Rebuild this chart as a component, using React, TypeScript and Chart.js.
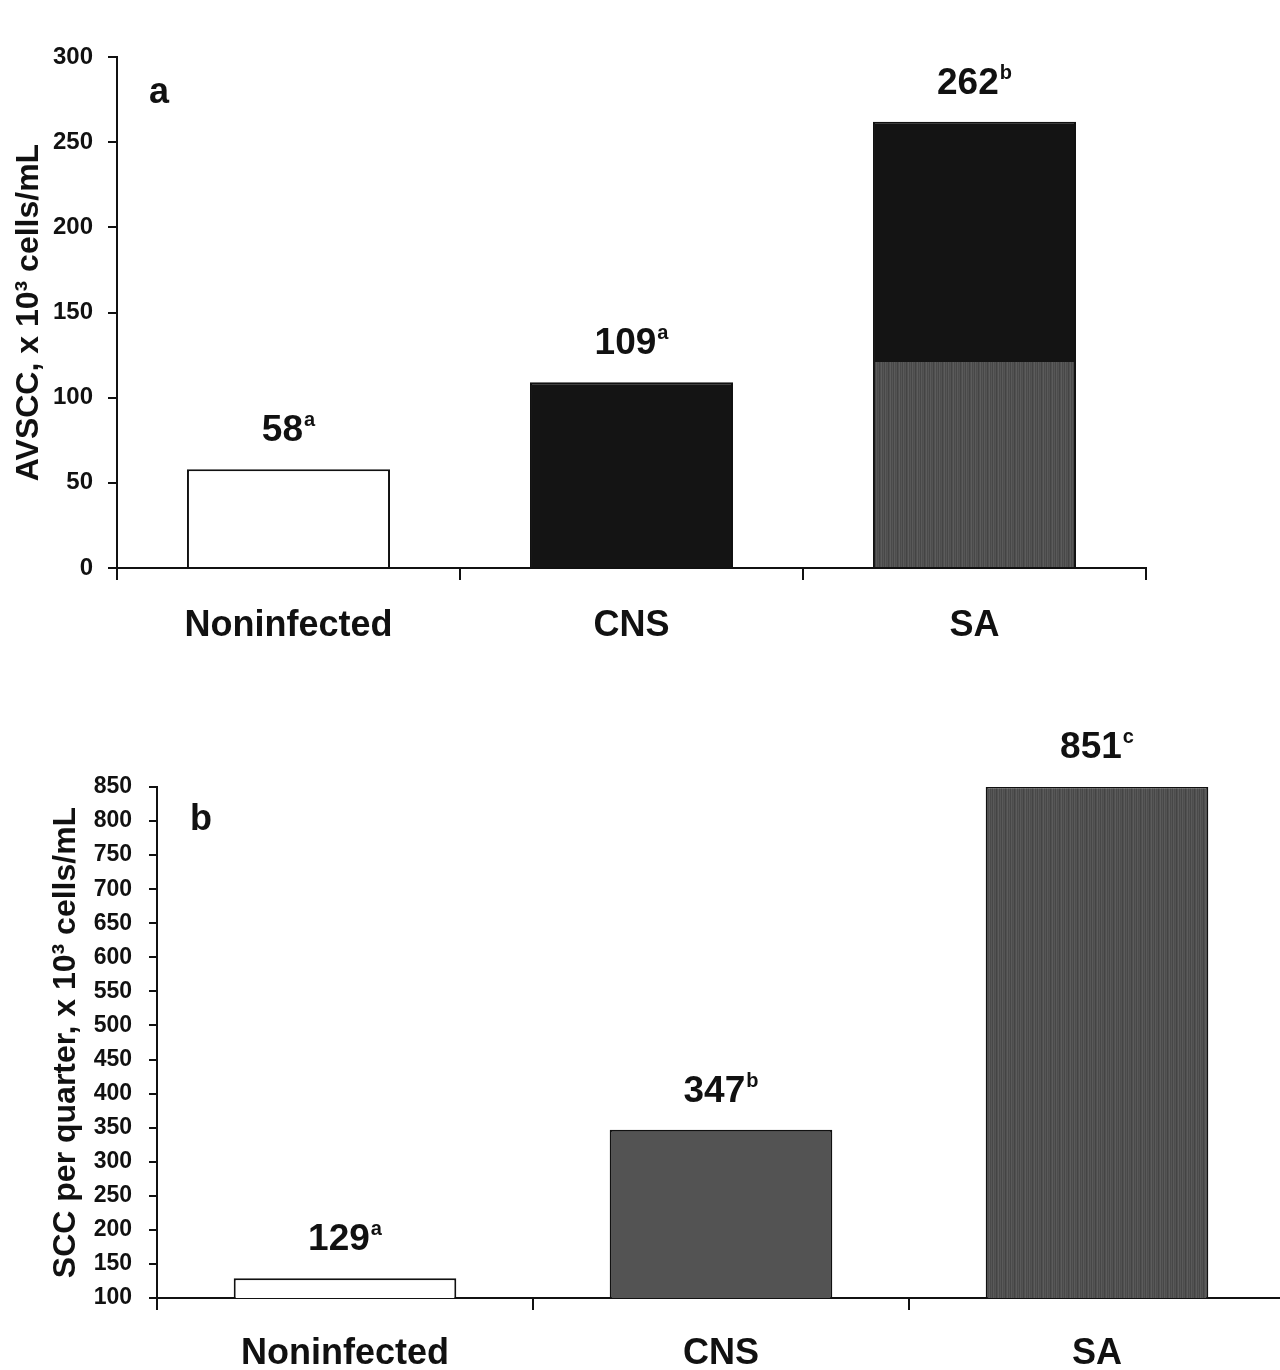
import React, { useEffect, useRef } from 'react';
import { Chart, registerables } from 'chart.js';

Chart.register(...registerables);

// ---- Data ----
const categories = ['Noninfected', 'CNS', 'SA'];

const avsccValues = [58, 109, 262];
const avsccLetters = ['a', 'a', 'b'];
const avsccTickMin = 0;
const avsccTickMax = 300;
const avsccTickStep = 50;

const sccValues = [129, 347, 851];
const sccLetters = ['a', 'b', 'c'];
const sccTickMin = 100;
const sccTickMax = 850;
const sccTickStep = 50;

// ---- Styles ----
const INK = '#111111';
const FONT = '"Liberation Sans", Arial, sans-serif';
const STRIPES = ['#4a4a4a', '#565656', '#474747', '#5a5a5a', '#4d4d4d', '#535353', '#444444', '#505050', '#5c5c5c'];

const valueLabelPlugin = {
  id: 'valueLabels',
  afterDatasetsDraw(chart: any, _args: any, opts: any) {
    const { ctx, chartArea } = chart;
    const meta = chart.getDatasetMeta(0);
    const values = chart.data.datasets[0].data as number[];
    const mainFont = `bold 37px ${FONT}`;
    const supFont = `bold 20px ${FONT}`;
    meta.data.forEach((bar: any, i: number) => {
      const main = String(values[i]);
      const sup = opts.letters[i];
      ctx.save();
      ctx.font = mainFont;
      const wMain = ctx.measureText(main).width;
      ctx.font = supFont;
      const wSup = ctx.measureText(sup).width;
      const total = wMain + 1 + wSup;
      const x0 = bar.x - total / 2;
      const yb = bar.y - 28;
      ctx.fillStyle = INK;
      ctx.textAlign = 'left';
      ctx.textBaseline = 'alphabetic';
      ctx.font = mainFont;
      ctx.fillText(main, x0, yb);
      ctx.font = supFont;
      ctx.fillText(sup, x0 + wMain + 1, yb - 15);
      ctx.restore();
    });
    // panel letter
    ctx.save();
    ctx.fillStyle = INK;
    ctx.font = `bold 36px ${FONT}`;
    ctx.textAlign = 'left';
    ctx.textBaseline = 'alphabetic';
    ctx.fillText(opts.panel, chartArea.left + opts.panelDx, chartArea.top + opts.panelDy);
    ctx.restore();
  },
};

interface PanelDef {
  values: number[];
  letters: string[];
  min: number;
  max: number;
  step: number;
  title: string;
  titlePad: number;
  tickFont: number;
  tickPad: number;
  yTickLen: number;
  colors: string[];
  striped: boolean[];
  width: number;
  height: number;
  areaLeft: number;
  areaTop: number;
  areaBottom: number;
  areaRight: number;
  xLabelPad: number;
  panel: string;
  panelDx: number;
  panelDy: number;
  blackAbove?: number;
}

function makeStripePattern(chart: any, def: PanelDef) {
  const h = chart.height;
  const off = document.createElement('canvas');
  off.width = STRIPES.length;
  off.height = h;
  const c = off.getContext('2d')!;
  STRIPES.forEach((col, k) => {
    c.fillStyle = col;
    c.fillRect(k, 0, 1, h);
  });
  if (def.blackAbove !== undefined && chart.scales.y) {
    const ys = Math.round(chart.scales.y.getPixelForValue(def.blackAbove));
    c.fillStyle = '#141414';
    c.fillRect(0, 0, off.width, ys);
  }
  return chart.ctx.createPattern(off, 'repeat-x');
}

function makeFill(def: PanelDef) {
  let cache: any = null;
  return (c: any) => {
    const i = c.dataIndex;
    const base = def.colors[i];
    if (!def.striped[i]) return base;
    const chart = c.chart;
    if (!chart.chartArea || !chart.scales.y) return base;
    if (!cache) cache = makeStripePattern(chart, def);
    return cache || base;
  };
}

function Panel({ def, style }: { def: PanelDef; style: React.CSSProperties }) {
  const ref = useRef<HTMLCanvasElement | null>(null);
  useEffect(() => {
    if (!ref.current) return;
    const chart = new Chart(ref.current, {
      type: 'bar',
      data: {
        labels: categories,
        datasets: [
          {
            data: def.values,
            backgroundColor: makeFill(def) as any,
            borderColor: INK,
            borderWidth: 2,
            categoryPercentage: 1,
            barPercentage: 0.592,
          },
        ],
      },
      options: {
        responsive: false,
        animation: false,
        devicePixelRatio: 1,
        layout: {
          padding: { top: def.areaTop, left: 0, right: def.width - def.areaRight, bottom: 0 },
        },
        plugins: {
          legend: { display: false },
          tooltip: { enabled: false },
          valueLabels: { letters: def.letters, panel: def.panel, panelDx: def.panelDx, panelDy: def.panelDy },
        } as any,
        scales: {
          x: {
            afterFit: (s: any) => {
              s.height = def.height - def.areaBottom;
            },
            grid: { offset: true, drawOnChartArea: false, tickLength: 12, color: INK, lineWidth: 2 },
            border: { color: INK, width: 2 },
            ticks: {
              color: INK,
              font: { family: FONT, size: 36, weight: 'bold' },
              padding: def.xLabelPad,
              maxRotation: 0,
              autoSkip: false,
            },
          },
          y: {
            min: def.min,
            max: def.max,
            afterFit: (s: any) => {
              s.width = def.areaLeft;
            },
            grid: { drawOnChartArea: false, tickLength: def.yTickLen, color: INK, lineWidth: 2 },
            border: { color: INK, width: 2 },
            ticks: {
              stepSize: def.step,
              color: INK,
              autoSkip: false,
              padding: def.tickPad,
              font: { family: FONT, size: def.tickFont, weight: 'bold' },
            },
            title: {
              display: true,
              text: def.title,
              color: INK,
              font: { family: FONT, size: 32, weight: 'bold' },
              padding: { top: def.titlePad, bottom: 0 },
            },
          },
        },
      },
      plugins: [valueLabelPlugin],
    } as any);
    return () => chart.destroy();
  }, [def]);
  return (
    <canvas
      ref={ref}
      width={def.width}
      height={def.height}
      style={{ position: 'absolute', width: def.width, height: def.height, ...style }}
    />
  );
}

const panelA: PanelDef = {
  values: avsccValues,
  letters: avsccLetters,
  min: avsccTickMin,
  max: avsccTickMax,
  step: avsccTickStep,
  title: 'AVSCC, x 10³ cells/mL',
  titlePad: 10,
  tickFont: 24,
  tickPad: 15,
  yTickLen: 9,
  colors: ['#ffffff', '#141414', '#141414'],
  striped: [false, false, true],
  width: 1280,
  height: 680,
  areaLeft: 117,
  areaTop: 57,
  areaBottom: 568,
  areaRight: 1146,
  xLabelPad: 24,
  panel: 'a',
  panelDx: 32,
  panelDy: 46,
  blackAbove: 121,
};

const panelB: PanelDef = {
  values: sccValues,
  letters: sccLetters,
  min: sccTickMin,
  max: sccTickMax,
  step: sccTickStep,
  title: 'SCC per quarter, x 10³ cells/mL',
  titlePad: 47,
  tickFont: 23,
  tickPad: 17,
  yTickLen: 8,
  colors: ['#ffffff', '#535353', '#4c4c4c'],
  striped: [false, false, true],
  width: 1300,
  height: 690,
  areaLeft: 157,
  areaTop: 107,
  areaBottom: 618,
  areaRight: 1285,
  xLabelPad: 22,
  panel: 'b',
  panelDx: 33,
  panelDy: 43,
};

export default function App() {
  return (
    <div
      style={{
        position: 'absolute',
        left: 0,
        top: 0,
        width: 1280,
        height: 1370,
        overflow: 'hidden',
        background: '#ffffff',
      }}
    >
      <Panel def={panelA} style={{ left: 0, top: 0 }} />
      <Panel def={panelB} style={{ left: 0, top: 680 }} />
    </div>
  );
}
